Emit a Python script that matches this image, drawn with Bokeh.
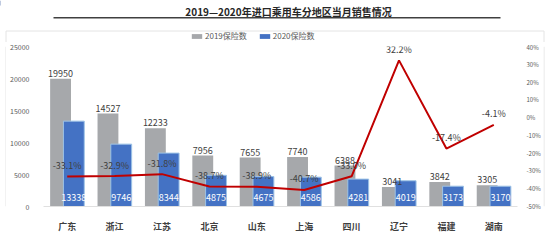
from bokeh.plotting import figure
from bokeh.layouts import column, row
from bokeh.models import (ColumnDataSource, FactorRange, Range1d, LinearAxis,
                          Legend, LegendItem, NumeralTickFormatter, FixedTicker)
from bokeh.transform import dodge
from bokeh.core.properties import value
from bokeh.embed import file_html
from bokeh.resources import INLINE

regions = ["广东", "浙江", "江苏", "北京", "山东", "上海", "四川", "辽宁", "福建", "湖南"]
sales_2019 = [19950, 14527, 12233, 7956, 7655, 7740, 6388, 3041, 3842, 3305]
sales_2020 = [13338, 9746, 8344, 4875, 4675, 4586, 4281, 4019, 3173, 3170]
growth = [-0.331, -0.329, -0.318, -0.387, -0.389, -0.407, -0.330, 0.322, -0.174, -0.041]
left_ticks = [0, 5000, 10000, 15000, 20000, 25000]
right_ticks = [-0.5, -0.4, -0.3, -0.2, -0.1, 0.0, 0.1, 0.2, 0.3, 0.4]
title_text = "2019—2020年进口乘用车分地区当月销售情况"
legend_labels = ["2019保险数", "2020保险数"]

FONT = "Noto Sans CJK SC"
GRAY = "#A6A8AB"
BLUE = "#4472C4"
RED = "#C00000"
BOXC = "#E4E4E4"


def bare(fig):
    fig.outline_line_color = None
    fig.grid.grid_line_color = None
    return fig


def plain(w, h):
    # a figure whose frame is its whole canvas, with pixel-like ranges (y downwards)
    return bare(figure(width=w, height=h, x_range=Range1d(0, w), y_range=Range1d(h, 0),
                       output_backend="svg", toolbar_location=None,
                       x_axis_location=None, y_axis_location=None,
                       min_border_left=0, min_border_right=0,
                       min_border_top=0, min_border_bottom=0))


# ---------- header: title, rule, legend, top of the frame box ----------
t = plain(550, 42)
t.text(x=[288], y=[11], text=[title_text], text_align="center", text_baseline="middle",
       text_font=value(FONT), text_font_size="10px", text_font_style="bold",
       text_color="#262626")
t.segment(x0=[53], y0=[17.2], x1=[500], y1=[17.2], line_color="#404040", line_width=1.6)
t.quad(left=[5.5], right=[543.5], top=[30.5], bottom=[60], fill_alpha=0,
       line_color=BOXC, line_width=1)
d19 = t.vbar(x=[-100], top=[5], width=1, fill_color=GRAY, line_color=None)
d20 = t.vbar(x=[-100], top=[5], width=1, fill_color=BLUE, line_color=None)
legend = Legend(items=[LegendItem(label=legend_labels[0], renderers=[d19]),
                       LegendItem(label=legend_labels[1], renderers=[d20])],
                orientation="horizontal", location=(190, 1), padding=0, margin=0,
                spacing=11, glyph_width=13, glyph_height=6, label_standoff=2,
                label_text_font=FONT, label_text_font_size="8px", label_text_color="#595959",
                border_line_color=None, background_fill_alpha=0, label_height=10)
t.add_layout(legend, "center")

# ---------- side strips and bottom strip of the frame box ----------
left_strip = plain(6, 193)
left_strip.segment(x0=[5.5], y0=[0], x1=[5.5], y1=[193], line_color=BOXC, line_width=1)
right_strip = plain(7, 193)
right_strip.segment(x0=[0.5], y0=[0], x1=[0.5], y1=[193], line_color=BOXC, line_width=1)
bottom = plain(550, 5)
bottom.quad(left=[5.5], right=[543.5], top=[-10], bottom=[0.5], fill_alpha=0,
            line_color=BOXC, line_width=1)

# ---------- main chart ----------
src = ColumnDataSource(dict(
    r=regions, a=sales_2019, b=sales_2020, g=growth,
    a_txt=[str(v) for v in sales_2019],
    b_txt=[str(v) for v in sales_2020],
    g_txt=["%.1f%%" % (v * 100) for v in growth],
    b_pos=[1400] * len(regions),
))

p = bare(figure(width=537, height=193, x_range=FactorRange(*regions, range_padding=0),
                y_range=Range1d(0, 25000), output_backend="svg", toolbar_location=None,
                min_border_left=37, min_border_right=23, min_border_top=4, min_border_bottom=24))
p.extra_y_ranges = {"pct": Range1d(-0.5, 0.4)}

p.vbar(x=dodge("r", -0.14, range=p.x_range), top="a", width=0.44, source=src,
       fill_color=GRAY, line_color=None)
p.vbar(x=dodge("r", 0.14, range=p.x_range), top="b", width=0.44, source=src,
       fill_color=BLUE, line_color="#9DC3E6", line_width=1)
p.line(x="r", y="g", source=src, y_range_name="pct", line_color=RED, line_width=2)

p.text(x=dodge("r", -0.14, range=p.x_range), y="a", text="a_txt", source=src,
       text_align="center", text_baseline="bottom", y_offset=-2,
       text_font=value(FONT), text_font_size="9px", text_color="#404040")
p.text(x=dodge("r", 0.14, range=p.x_range), y="b_pos", text="b_txt", source=src,
       text_align="center", text_baseline="middle",
       text_font=value(FONT), text_font_size="9px", text_color="white")
p.text(x="r", y="g", text="g_txt", source=src, y_range_name="pct",
       text_align="center", text_baseline="middle", y_offset=-11,
       text_font=value(FONT), text_font_size="9px", text_color="#404040")

p.yaxis.ticker = FixedTicker(ticks=left_ticks)
p.yaxis.axis_line_color = None
p.yaxis.major_tick_line_color = None
p.yaxis.minor_tick_line_color = None
p.yaxis.major_label_text_font = FONT
p.yaxis.major_label_text_font_size = "7px"
p.yaxis.major_label_text_color = "#595959"
p.yaxis.major_label_standoff = 8

ax_r = LinearAxis(y_range_name="pct", ticker=FixedTicker(ticks=right_ticks),
                  formatter=NumeralTickFormatter(format="0%"))
ax_r.axis_line_color = None
ax_r.major_tick_line_color = None
ax_r.minor_tick_line_color = None
ax_r.major_label_text_font = FONT
ax_r.major_label_text_font_size = "6px"
ax_r.major_label_text_color = "#595959"
ax_r.major_label_standoff = 3
p.add_layout(ax_r, "right")

p.xaxis.axis_line_color = "#E0E0E0"
p.xaxis.major_tick_line_color = None
p.xaxis.minor_tick_line_color = None
p.xaxis.major_label_text_font = FONT
p.xaxis.major_label_text_font_size = "9px"
p.xaxis.major_label_text_color = "#404040"
p.xaxis.major_label_text_font_style = "bold"
p.xaxis.major_label_standoff = 7

layout = column(t, row(left_strip, p, right_strip, spacing=0), bottom, spacing=0)
open("out.html", "w").write(file_html(layout, INLINE))
